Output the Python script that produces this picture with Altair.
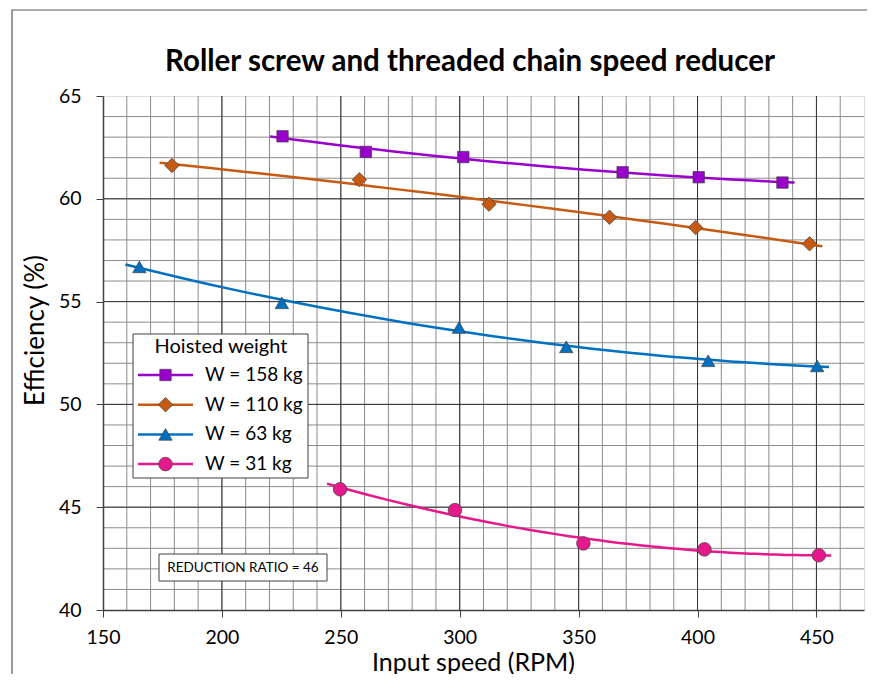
import altair as alt
import pandas as pd

# ---------------- data ----------------
series_names = ["W = 158 kg", "W = 110 kg", "W = 63 kg", "W = 31 kg"]
series_colors = ["#9900CC", "#C65A12", "#0070C0", "#E6198C"]
series_shapes = ["square", "diamond", "triangle-up", "circle"]
series_sizes = [130, 210, 180, 185]

rpm_158 = [225.5, 260.5, 301.5, 368.5, 400.5, 435.7]
eff_158 = [63.04, 62.28, 62.03, 61.29, 61.05, 60.79]
rpm_110 = [179.0, 257.8, 312.3, 363.0, 399.2, 447.1]
eff_110 = [61.62, 60.93, 59.74, 59.10, 58.60, 57.81]
rpm_63 = [165.3, 225.2, 299.7, 344.8, 404.5, 450.3]
eff_63 = [56.69, 54.94, 53.74, 52.80, 52.12, 51.87]
rpm_31 = [249.7, 298.0, 352.0, 402.9, 451.0]
eff_31 = [45.87, 44.86, 43.24, 42.95, 42.66]

# range covered by each fitted trend line (RPM)
trend_extents = [[220.3, 440.8], [173.8, 452.5], [159.4, 455.3], [244.2, 456.2]]

x_ticks = [150, 200, 250, 300, 350, 400, 450]
y_ticks = [40, 45, 50, 55, 60, 65]
x_minor = list(range(160, 470, 10))
y_minor = list(range(41, 65, 1))
x_major = [200, 250, 300, 350, 400, 450]
y_major = [45, 50, 55, 60]

title_text = "Roller screw and threaded chain speed reducer"
legend_title = "Hoisted weight"
note_text = "REDUCTION RATIO = 46"

# ---------------- tables ----------------
rows = []
for name, xs, ys in [(series_names[0], rpm_158, eff_158), (series_names[1], rpm_110, eff_110),
                     (series_names[2], rpm_63, eff_63), (series_names[3], rpm_31, eff_31)]:
    for a, b in zip(xs, ys):
        rows.append({"series": name, "rpm": a, "eff": b})
df = pd.DataFrame(rows)
legend_df = pd.DataFrame({"series": series_names, "row": list(range(len(series_names)))})
one = pd.DataFrame({"k": [0]})

FONT = "Lato"
W, H = 761, 514
x_scale = alt.Scale(domain=[150, 470], nice=False, zero=False)
y_scale = alt.Scale(domain=[40, 65], nice=False, zero=False)
color_scale = alt.Scale(domain=series_names, range=series_colors)
shape_scale = alt.Scale(domain=series_names, range=series_shapes)
size_scale = alt.Scale(type="ordinal", domain=series_names, range=series_sizes)

x_axis = alt.Axis(values=x_ticks, grid=False, title="Input speed (RPM)", titleFontSize=25,
                  titleFont=FONT, titleFontWeight="normal", titleColor="#000",
                  titleBaseline="alphabetic", titleY=60, titleX=370,
                  labelFontSize=19.5, labelFont=FONT, labelColor="#000", labelPadding=11,
                  tickSize=7, tickColor="#404040", domainColor="#404040", domainWidth=1.5,
                  zindex=2, labelFlush=False)
y_axis = alt.Axis(values=y_ticks, grid=False, title="Efficiency (%)", titleFontSize=26,
                  titleFont=FONT, titleFontWeight="normal", titleColor="#000", titlePadding=10,
                  titleY=234,
                  labelFontSize=19.5, labelFont=FONT, labelColor="#000", labelPadding=15,
                  tickSize=7, tickColor="#404040", domainColor="#404040", domainWidth=1.5,
                  zindex=2, labelFlush=False)

# ---------------- grid ----------------
gx_minor = alt.Chart(pd.DataFrame({"v": x_minor})).mark_rule(color="#8C8C8C", strokeWidth=1).encode(
    x=alt.X("v:Q", scale=x_scale, axis=x_axis))
gy_minor = alt.Chart(pd.DataFrame({"v": y_minor})).mark_rule(color="#8C8C8C", strokeWidth=1).encode(
    y=alt.Y("v:Q", scale=y_scale, axis=y_axis))
gx_major = alt.Chart(pd.DataFrame({"v": x_major})).mark_rule(color="#333333", strokeWidth=1).encode(
    x=alt.X("v:Q", scale=x_scale))
gy_major = alt.Chart(pd.DataFrame({"v": y_major})).mark_rule(color="#333333", strokeWidth=1).encode(
    y=alt.Y("v:Q", scale=y_scale))

# ---------------- trend lines ----------------
trend_layers = []
for i, name in enumerate(series_names):
    trend_layers.append(
        alt.Chart(df).transform_filter(alt.datum.series == name)
        .transform_regression("rpm", "eff", method="poly", order=2,
                              extent=trend_extents[i], groupby=["series"])
        .mark_line(strokeWidth=2.5)
        .encode(x=alt.X("rpm:Q", scale=x_scale), y=alt.Y("eff:Q", scale=y_scale),
                color=alt.Color("series:N", scale=color_scale, legend=None))
    )

points = alt.Chart(df).mark_point(filled=True, opacity=1, stroke="#404040",
                                  strokeWidth=0.7).encode(
    x=alt.X("rpm:Q", scale=x_scale),
    y=alt.Y("eff:Q", scale=y_scale),
    color=alt.Color("series:N", scale=color_scale, legend=None),
    shape=alt.Shape("series:N", scale=shape_scale, legend=None),
    size=alt.Size("series:N", scale=size_scale, legend=None),
)

# ---------------- legend (drawn) ----------------
leg_box = alt.Chart(one).mark_rect(fill="white", stroke="#404040", strokeWidth=1).encode(
    x=alt.value(30), x2=alt.value(205), y=alt.value(238), y2=alt.value(382))
leg_title = alt.Chart(one).mark_text(text=legend_title, font=FONT, fontSize=20, color="#000",
                                     align="center", baseline="middle").encode(
    x=alt.value(118), y=alt.value(251))
leg_base = alt.Chart(legend_df).transform_calculate(py="279 + datum.row * 29.7")
leg_lines = leg_base.mark_rule(strokeWidth=2.5).encode(
    x=alt.value(35), x2=alt.value(90),
    y=alt.Y("py:Q", scale=None, axis=None),
    color=alt.Color("series:N", scale=color_scale, legend=None))
leg_marks = leg_base.mark_point(filled=True, opacity=1, stroke="#404040",
                                strokeWidth=0.7).encode(
    x=alt.value(62.5),
    y=alt.Y("py:Q", scale=None, axis=None),
    color=alt.Color("series:N", scale=color_scale, legend=None),
    shape=alt.Shape("series:N", scale=shape_scale, legend=None),
    size=alt.Size("series:N", scale=size_scale, legend=None))
leg_text = leg_base.mark_text(font=FONT, fontSize=19, color="#000", align="left",
                              baseline="middle").encode(
    x=alt.value(102),
    y=alt.Y("py:Q", scale=None, axis=None),
    text="series:N")

note_box = alt.Chart(one).mark_rect(fill="white", stroke="#404040", strokeWidth=1).encode(
    x=alt.value(56), x2=alt.value(224), y=alt.value(458), y2=alt.value(485))
note = alt.Chart(one).mark_text(text=note_text, font=FONT, fontSize=13.5, color="#000",
                                align="center", baseline="middle").encode(
    x=alt.value(140), y=alt.value(471.5))

title_mark = alt.Chart(one).mark_text(text=title_text, font=FONT, fontSize=29.5, fontWeight="bold",
                                      color="#000", align="center", baseline="middle").encode(
    x=alt.value(367), y=alt.value(-34))

outer = alt.Chart(one).mark_rect(fill=None, stroke="#595959", strokeWidth=1.2).encode(
    x=alt.value(-91), x2=alt.value(1500), y=alt.value(-86), y2=alt.value(1500))

chart = alt.layer(
    outer, gx_minor, gy_minor, gx_major, gy_major, *trend_layers, points,
    leg_box, leg_title, leg_lines, leg_marks, leg_text, note_box, note, title_mark,
).properties(
    width=W, height=H,
    autosize=alt.AutoSizeParams(type="none"),
    padding={"left": 95, "top": 88, "right": 3, "bottom": 64},
).configure_view(stroke="#404040", strokeWidth=1.5).configure(background="white")

chart.save("out.html", embed_options={"renderer": "svg", "actions": False})
